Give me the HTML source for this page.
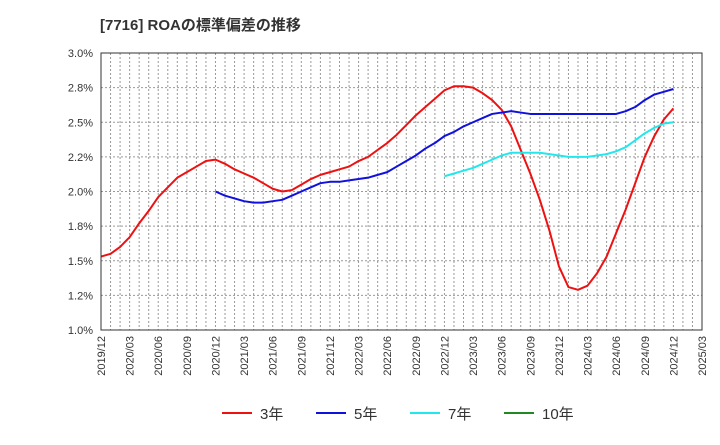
<!DOCTYPE html>
<html><head><meta charset="utf-8"><style>
body{margin:0;background:#fff;font-family:"Liberation Sans","Noto Sans CJK JP",sans-serif}
svg text{font-family:"Liberation Sans","Noto Sans CJK JP",sans-serif}
</style></head><body>
<svg id="c" width="720" height="440">
<text x="100" y="30" font-size="15" font-weight="bold" fill="#333">[7716]  ROAの標準偏差の推移</text>
<g id="grid"></g><g id="series"></g><g id="axes"></g>
<rect x="101" y="53" width="601" height="277" fill="none" stroke="#333" stroke-width="1"/>
<g id="legend"></g>
</svg>
<script>
const xLabels=["2019/12","2020/03","2020/06","2020/09","2020/12","2021/03","2021/06","2021/09","2021/12","2022/03","2022/06","2022/09","2022/12","2023/03","2023/06","2023/09","2023/12","2024/03","2024/06","2024/09","2024/12","2025/03"];
const yTicks=[1.0,1.25,1.5,1.75,2.0,2.25,2.5,2.75,3.0];
const yTickLabels=["1.0%","1.2%","1.5%","1.8%","2.0%","2.2%","2.5%","2.8%","3.0%"];
// monthly values starting 2019/12
const s3=[1.53,1.55,1.60,1.67,1.77,1.86,1.96,2.03,2.10,2.14,2.18,2.22,2.23,2.20,2.16,2.13,2.10,2.06,2.02,2.00,2.01,2.05,2.09,2.12,2.14,2.16,2.18,2.22,2.25,2.30,2.35,2.41,2.48,2.55,2.61,2.67,2.73,2.76,2.76,2.75,2.71,2.66,2.59,2.47,2.30,2.13,1.94,1.72,1.46,1.31,1.29,1.32,1.41,1.53,1.70,1.87,2.06,2.25,2.40,2.52,2.60];
const s5=[2.00,1.97,1.95,1.93,1.92,1.92,1.93,1.94,1.97,2.00,2.03,2.06,2.07,2.07,2.08,2.09,2.10,2.12,2.14,2.18,2.22,2.26,2.31,2.35,2.40,2.43,2.47,2.50,2.53,2.56,2.57,2.58,2.57,2.56,2.56,2.56,2.56,2.56,2.56,2.56,2.56,2.56,2.56,2.58,2.61,2.66,2.70,2.72,2.74];
const s7=[2.11,2.13,2.15,2.17,2.20,2.23,2.26,2.28,2.28,2.28,2.28,2.27,2.26,2.25,2.25,2.25,2.26,2.27,2.29,2.32,2.37,2.42,2.46,2.49,2.50];
const s5Start=12, s7Start=36;
const X0=101,X1=702,Y0=330,Y1=53;
const xm=i=>X0+(X1-X0)*i/63;
const y=v=>Y0-(v-1.0)/(3.0-1.0)*(Y0-Y1);
const NS="http://www.w3.org/2000/svg";
function mk(t,a,p){const e=document.createElementNS(NS,t);for(const k in a)e.setAttribute(k,a[k]);p.appendChild(e);return e;}
const grid=document.getElementById('grid'),axes=document.getElementById('axes'),ser=document.getElementById('series'),leg=document.getElementById('legend');
for(let m=1;m<63;m++){const x=xm(m);
const l=mk('line',{x1:x,x2:x,y1:Y1,y2:Y0,stroke:'#999','stroke-dasharray':'2,2','stroke-width':1},grid);

}
yTicks.forEach((v,i)=>{const yy=y(v);
if(i>0&&i<yTicks.length-1){const l=mk('line',{x1:X0,x2:X1,y1:yy,y2:yy,stroke:'#999','stroke-dasharray':'2,2'},grid);

}
const t=mk('text',{x:93,y:yy+4,'text-anchor':'end','font-size':11,fill:'#333'},axes);t.textContent=yTickLabels[i];

});
xLabels.forEach((s,i)=>{const x=xm(i*3);const t=mk('text',{x:0,y:0,'text-anchor':'end','font-size':11,fill:'#333',transform:`translate(${x+4},336) rotate(-90)`},axes);t.textContent=s;

});
function line(arr,start,col,name){const p=arr.map((v,i)=>xm(i+start)+','+y(v)).join(' ');
const e=mk('polyline',{points:p,fill:'none',stroke:col,'stroke-width':2,'stroke-linejoin':'round'},ser);

}
line(s3,0,'#ee1111','series-3y');line(s5,s5Start,'#1111dd','series-5y');line(s7,s7Start,'#22e8ee','series-7y');
[["3年","#ee1111",222],["5年","#1111dd",316],["7年","#22e8ee",410],["10年","#228822",504]].forEach(([n,c,x])=>{
const g=mk('g',{},leg);


mk('line',{x1:x,x2:x+30,y1:413,y2:413,stroke:c,'stroke-width':2},g);
const t=mk('text',{x:x+38,y:419,'font-size':15,fill:'#333'},g);t.textContent=n;});
</script>
</body></html>
